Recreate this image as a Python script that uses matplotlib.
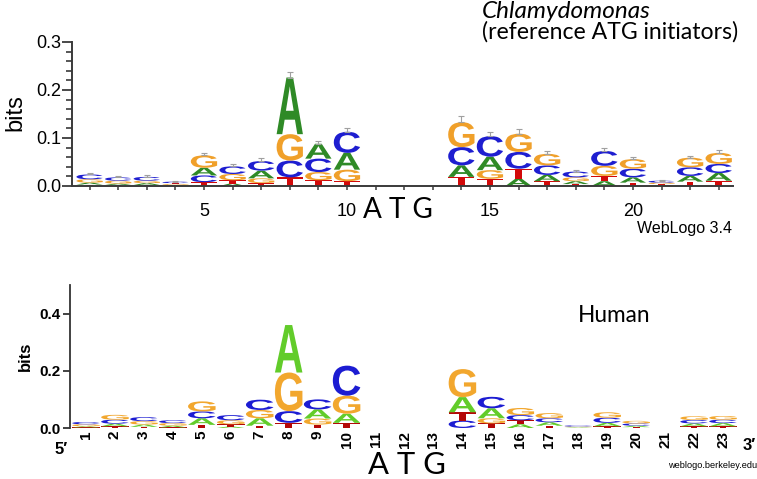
import matplotlib
matplotlib.use("Agg")
import matplotlib.pyplot as plt
from matplotlib.textpath import TextPath
from matplotlib.patches import PathPatch
from matplotlib.font_manager import FontProperties
from matplotlib.transforms import Affine2D
import numpy as np

W, H = 757, 479

positions = list(range(1, 24))
letters = "ACGT"

# Chlamydomonas logo, bits per base (ATG at 11-13 left empty)
chl_A = [.004, .003, .004, .002, .016, .005, .016, .118, .031, .035, 0, 0, 0,
         .024, .028, .015, .013, .006, .010, .011, .002, .012, .016]
chl_C = [.010, .007, .008, .003, .014, .016, .020, .035, .028, .044, 0, 0, 0,
         .038, .043, .035, .020, .012, .031, .018, .004, .018, .019]
chl_G = [.007, .006, .005, .002, .026, .013, .010, .055, .017, .024, 0, 0, 0,
         .052, .018, .038, .024, .008, .021, .020, .003, .020, .023]
chl_T = [.003, .002, .002, .002, .008, .007, .006, .018, .012, .010, 0, 0, 0,
         .019, .015, .021, .010, .004, .011, .007, .002, .009, .011]
chl_err = [.003, .003, .003, .002, .005, .004, .006, .012, .006, .008, 0, 0, 0,
           .013, .008, .009, .005, .003, .006, .004, .002, .004, .005]

# Human logo
hum_A = [.004, .009, .008, .006, .023, .005, .026, .166, .032, .032, 0, 0, 0,
         .053, .035, .013, .012, .002, .012, .005, 0, .010, .011]
hum_C = [.008, .014, .014, .010, .024, .018, .036, .041, .035, .105, 0, 0, 0,
         .026, .040, .018, .014, .004, .018, .008, 0, .012, .012]
hum_G = [.007, .017, .012, .009, .035, .014, .029, .135, .021, .063, 0, 0, 0,
         .098, .018, .025, .018, .002, .019, .009, 0, .013, .013]
hum_T = [.002, .006, .004, .002, .011, .008, .008, .018, .012, .018, 0, 0, 0,
         .029, .016, .014, .008, .001, .006, .003, 0, .006, .006]

top_colors = {"A": "#2f8a26", "C": "#1e1ed0", "G": "#f0a02a", "T": "#d20a0a"}
bot_colors = {"A": "#62cc2a", "C": "#1c1cd2", "G": "#f2a72e", "T": "#b40808"}

LOGO_FONT = FontProperties(family="Liberation Sans", weight="bold")
_glyphs = {}


def glyph(ch):
    if ch not in _glyphs:
        p = TextPath((0, 0), ch, size=1, prop=LOGO_FONT)
        _glyphs[ch] = (p, p.get_extents())
    return _glyphs[ch]


def draw_letter(ax, ch, x, y0, h, width, color):
    p, ext = glyph(ch)
    tr = (Affine2D().translate(-ext.x0, -ext.y0)
          .scale(width / ext.width, h / ext.height)
          .translate(x - width / 2, y0))
    ax.add_patch(PathPatch(tr.transform_path(p), fc=color, ec="none", lw=0))


def draw_logo(ax, heights, colors, width):
    tops = []
    for i, pos in enumerate(positions):
        stack = sorted((heights[l][i], l) for l in letters)
        y = 0
        for h, l in stack:
            if h > 0:
                draw_letter(ax, l, pos, y, h, width, colors[l])
            y += h
        tops.append(y)
    return np.array(tops)


def fit_text(fig, x, y, s, target_w, size0=12, **kw):
    t = fig.text(x / W, 1 - y / H, s, fontsize=size0, **kw)
    r = fig.canvas.get_renderer()
    w = t.get_window_extent(renderer=r).width
    t.set_fontsize(size0 * target_w / w)
    return t


fig = plt.figure(figsize=(W / 100, H / 100), dpi=100)
fig.patch.set_facecolor("white")

# ---- top: Chlamydomonas (WebLogo 3.4 style)
ax1 = fig.add_axes([72 / W, 1 - 186 / H, (733 - 72) / W, (186 - 42) / H])
ax1.set_xlim(0.385, 23.5)
ax1.set_ylim(0, 0.3)
chl = {"A": chl_A, "C": chl_C, "G": chl_G, "T": chl_T}
tops1 = draw_logo(ax1, chl, top_colors, 0.92)
err = np.array(chl_err)
m = err > 0
ax1.errorbar(np.array(positions)[m], tops1[m], yerr=[np.zeros(m.sum()), err[m]],
             fmt="none", ecolor="#a0a0a0", elinewidth=0.8, capsize=2, capthick=0.8,
             zorder=5)
for s in ("top", "right"):
    ax1.spines[s].set_visible(False)
for s in ("left", "bottom"):
    ax1.spines[s].set_linewidth(1.4)
    ax1.spines[s].set_color("#3a3a3a")
ax1.set_yticks([0, 0.1, 0.2, 0.3])
ax1.set_yticklabels(["0.0", "0.1", "0.2", "0.3"])
ax1.set_yticks(np.arange(0, 0.301, 0.02), minor=True)
ax1.set_xticks([5, 10, 15, 20])
ax1.set_xticks(positions, minor=True)
ax1.tick_params(axis="y", which="major", length=7, width=1.3, pad=1,
                labelsize=13, color="#3a3a3a")
ax1.tick_params(axis="y", which="minor", length=4, width=1.2, color="#3a3a3a")
ax1.tick_params(axis="x", which="both", length=3, width=1.1, pad=9,
                labelsize=13, color="#3a3a3a")
for lab in ax1.get_xticklabels() + ax1.get_yticklabels():
    lab.set_family("Liberation Sans")
fig.text(15 / W, 1 - 113 / H, "bits", rotation=90, ha="center", va="center",
         fontsize=17, family="Liberation Sans")

# ---- bottom: Human (weblogo.berkeley.edu style)
ax2 = fig.add_axes([70 / W, 1 - 428 / H, (737.5 - 70) / W, (428 - 285) / H])
ax2.set_xlim(0.448, 23.5)
ax2.set_ylim(0, 0.5)
hum = {"A": hum_A, "C": hum_C, "G": hum_G, "T": hum_T}
draw_logo(ax2, hum, bot_colors, 0.95)
for s in ("top", "right", "bottom"):
    ax2.spines[s].set_visible(False)
ax2.spines["left"].set_linewidth(1.3)
ax2.spines["left"].set_color("#333333")
ax2.set_yticks([0, 0.2, 0.4])
ax2.set_yticklabels(["0.0", "0.2", "0.4"])
ax2.set_xticks(positions)
ax2.set_xticklabels([str(p) for p in positions], rotation=90)
ax2.tick_params(axis="y", length=5, width=1.3, pad=2, labelsize=11,
                color="#333333")
ax2.tick_params(axis="x", length=0, pad=2, labelsize=11)
for lab in ax2.get_xticklabels() + ax2.get_yticklabels():
    lab.set_family("Liberation Sans")
    lab.set_fontweight("bold")
    if lab in ax2.get_xticklabels():
        lab.set_va("top")
fig.text(25 / W, 1 - 356 / H, "bits", rotation=90, ha="center", va="center",
         fontsize=12, fontweight="bold", family="Liberation Sans")
fig.text(61 / W, 1 - 449 / H, "5\u2032", ha="center", va="center", fontsize=12,
         fontweight="bold", family=["Liberation Sans", "DejaVu Sans"])
fig.text(749 / W, 1 - 446 / H, "3\u2032", ha="center", va="center", fontsize=12,
         fontweight="bold", family=["Liberation Sans", "DejaVu Sans"])

# ---- slide annotations
fit_text(fig, 398, 210, "A T G", 70, ha="center", va="center", family="Lato")
fit_text(fig, 407, 465, "A T G", 78, ha="center", va="center", family="Lato")
fit_text(fig, 482, 12, "Chlamydomonas", 168, ha="left", va="center",
         family="Lato", style="italic")
fit_text(fig, 482, 32, "(reference ATG initiators)", 255, ha="left",
         va="center", family="Lato")
fit_text(fig, 614, 315, "Human", 72, ha="center", va="center", family="Lato")
fit_text(fig, 732, 229, "WebLogo 3.4", 95, ha="right", va="center",
         family="Liberation Sans")
fit_text(fig, 668, 465, "weblogo.berkeley.edu", 88, ha="left", va="center",
         family="Liberation Sans")

fig.savefig("out.png", dpi=100, facecolor="white")
